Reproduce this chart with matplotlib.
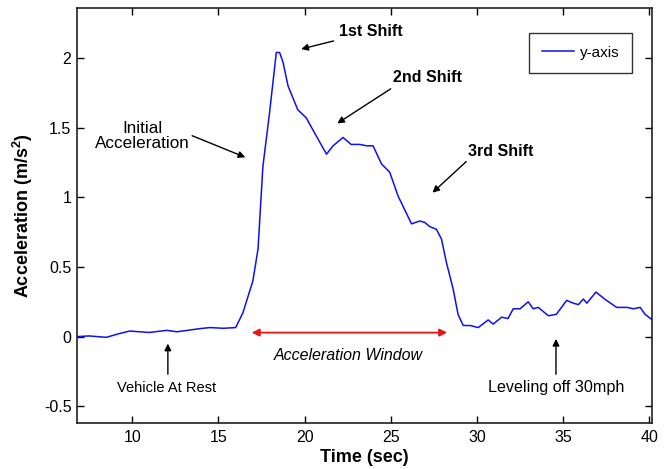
import matplotlib
matplotlib.use('Agg')
import matplotlib.pyplot as plt

plt.rcParams['font.family'] = ['Liberation Sans', 'DejaVu Sans']
plt.rcParams['mathtext.fontset'] = 'custom'
plt.rcParams['mathtext.rm'] = 'Liberation Sans'
plt.rcParams['mathtext.bf'] = 'Liberation Sans:bold'

# acceleration trace
time_s = [6.8, 7.5, 8.5, 9.2, 9.85, 11.0, 12.0, 12.6, 13.2, 13.9, 14.5, 15.3, 16.0,
          16.42, 17.0, 17.3, 17.58, 17.97, 18.36, 18.55, 18.75, 19.04, 19.6, 20.1,
          20.59, 21.27, 21.65, 22.23, 22.7, 23.2, 23.6, 23.97, 24.46, 24.94, 25.42,
          25.81, 26.2, 26.68, 26.97, 27.26, 27.65, 27.94, 28.23, 28.62, 28.9, 29.2,
          29.6, 30.07, 30.65, 30.94, 31.43, 31.8, 32.1, 32.5, 32.97, 33.26, 33.55,
          34.14, 34.6, 35.2, 35.59, 35.88, 36.17, 36.37, 36.9, 37.4, 38.1, 38.7,
          39.07, 39.46, 39.75, 40.17]
accel = [0.0, 0.005, -0.005, 0.02, 0.04, 0.03, 0.045, 0.035, 0.045, 0.057, 0.065, 0.06, 0.065,
         0.17, 0.4, 0.63, 1.22, 1.61, 2.04, 2.04, 1.97, 1.80, 1.63, 1.57,
         1.46, 1.31, 1.37, 1.43, 1.38, 1.38, 1.37, 1.37, 1.24, 1.18, 1.01,
         0.91, 0.81, 0.83, 0.82, 0.79, 0.77, 0.70, 0.53, 0.34, 0.16, 0.08,
         0.08, 0.065, 0.12, 0.09, 0.14, 0.13, 0.20, 0.20, 0.25, 0.20, 0.21,
         0.15, 0.16, 0.26, 0.24, 0.23, 0.27, 0.24, 0.32, 0.27, 0.21, 0.21,
         0.20, 0.21, 0.16, 0.12]

x_ticks = [10, 15, 20, 25, 30, 35, 40]
y_ticks = [-0.5, 0, 0.5, 1, 1.5, 2]
y_tick_labels = ['-0.5', '0', '0.5', '1', '1.5', '2']

fig = plt.figure(figsize=(6.69, 4.69), dpi=100)
ax = fig.add_axes([0.1151, 0.0981, 0.8595, 0.885])

ax.plot(time_s, accel, color='#1010ee', lw=1.1, label='y-axis')

ax.set_xlim(6.8, 40.15)
ax.set_ylim(-0.62, 2.36)
ax.set_xticks(x_ticks)
ax.set_yticks(y_ticks)
ax.set_yticklabels(y_tick_labels)
ax.tick_params(direction='in', top=True, right=True, labelsize=11.5, length=5, width=1, pad=5)
ax.tick_params(axis='y', pad=4)
for s in ax.spines.values():
    s.set_linewidth(1.2)
    s.set_color('#222222')

ax.set_xlabel('Time (sec)', fontsize=13, fontweight='bold', labelpad=3)
ax.set_ylabel(r'Acceleration (m/s$^{\mathbf{2}}$)', fontsize=13, fontweight='bold', labelpad=6)

arrow = dict(arrowstyle='-|>', color='black', lw=1, mutation_scale=10)

ax.annotate('1st Shift', xy=(19.65, 2.06), xytext=(22.0, 2.19), fontsize=11.5, fontweight='bold',
            ha='left', va='center', arrowprops=arrow)
ax.text(25.1, 1.86, '2nd Shift', fontsize=11.5, fontweight='bold', ha='left', va='center')
ax.annotate('', xy=(21.76, 1.52), xytext=(25.13, 1.79), arrowprops=arrow)
ax.text(29.45, 1.33, '3rd Shift', fontsize=11.5, fontweight='bold', ha='left', va='center')
ax.annotate('', xy=(27.3, 1.02), xytext=(29.49, 1.27), arrowprops=arrow)
ax.text(10.6, 1.44, 'Initial\nAcceleration', fontsize=12.3, ha='center', va='center', linespacing=1.0)
ax.annotate('', xy=(16.71, 1.28), xytext=(13.33, 1.45), arrowprops=arrow)

ax.text(12.0, -0.37, 'Vehicle At Rest', fontsize=10.5, ha='center', va='center')
ax.annotate('', xy=(12.07, -0.03), xytext=(12.07, -0.29), arrowprops=arrow)

ax.text(34.58, -0.366, 'Leveling off 30mph', fontsize=11.6, ha='center', va='center')
ax.annotate('', xy=(34.58, 0.004), xytext=(34.58, -0.29), arrowprops=arrow)

ax.annotate('', xy=(16.77, 0.029), xytext=(28.43, 0.029),
            arrowprops=dict(arrowstyle='<|-|>', color='#ee1111', lw=1.3, mutation_scale=11))
ax.text(22.52, -0.134, 'Acceleration Window', fontsize=11.5, style='italic', ha='center', va='center')

leg = ax.legend(loc='upper right', fontsize=11, frameon=True, fancybox=False,
                bbox_to_anchor=(0.966, 0.94), handlelength=2.1, handletextpad=0.4,
                borderpad=0.85, borderaxespad=0)
leg.get_frame().set_edgecolor('black')
leg.get_frame().set_linewidth(1)

fig.savefig('out.png', dpi=100)
